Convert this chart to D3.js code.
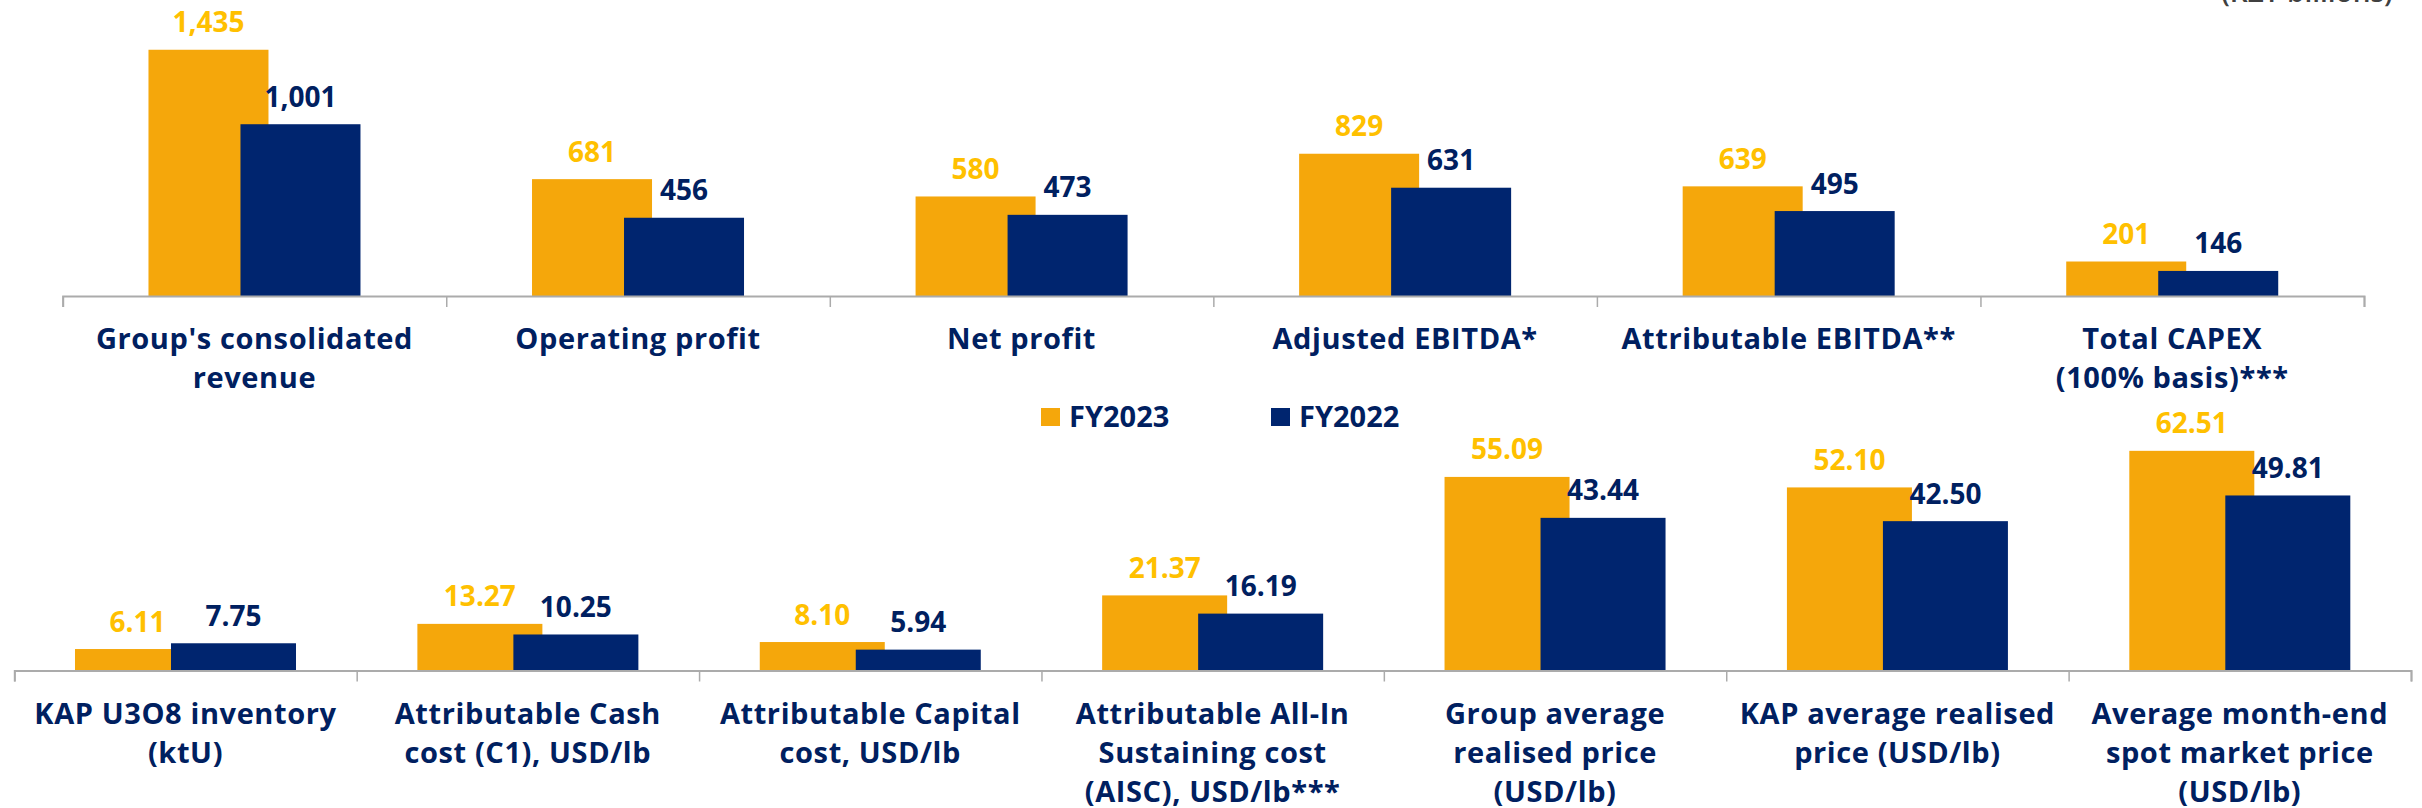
<!DOCTYPE html>
<html>
<head>
<meta charset="utf-8">
<script src="https://cdn.jsdelivr.net/npm/d3@7"></script>
<style>
  html, body { margin: 0; padding: 0; background: #ffffff; }
  svg { display: block; }
  text { font-family: "Open Sans", "DejaVu Sans", sans-serif; font-weight: 700; }
</style>
</head>
<body>
<div id="chart"></div>
<script>
// Financial results, KZT billions
const finCategories = [
    ["Group's consolidated", "revenue"],
    ["Operating profit"],
    ["Net profit"],
    ["Adjusted EBITDA*"],
    ["Attributable EBITDA**"],
    ["Total CAPEX", "(100% basis)***"]
];
const finFY2023 = [1435, 681, 580, 829, 639, 201];
const finFY2022 = [1001, 456, 473, 631, 495, 146];

// Operating / price indicators
const opsCategories = [
    ["KAP U3O8 inventory", "(ktU)"],
    ["Attributable Cash", "cost (C1), USD/lb"],
    ["Attributable Capital", "cost, USD/lb"],
    ["Attributable All-In", "Sustaining cost", "(AISC), USD/lb***"],
    ["Group average", "realised price", "(USD/lb)"],
    ["KAP average realised", "price (USD/lb)"],
    ["Average month-end", "spot market price", "(USD/lb)"]
];
const opsFY2023 = [6.11, 13.27, 8.10, 21.37, 55.09, 52.10, 62.51];
const opsFY2022 = [7.75, 10.25, 5.94, 16.19, 43.44, 42.50, 49.81];

const seriesNames = ["FY2023", "FY2022"];

const W = 2422, H = 808;
const ORANGE = "#f5a70b", ORANGE_TXT = "#ffc000";
const NAVY = "#00256f", NAVY_TXT = "#002060";

const svg = d3.select("#chart").append("svg")
    .attr("width", W)
    .attr("height", H);

// draws one panel of paired bars
function drawPanel(cfg) {
    const n = cfg.categories.length;
    const g = svg.append("g");

    const x = d3.scaleBand()
        .domain(d3.range(n))
        .range([cfg.x0, cfg.x1])
        .paddingInner(0).paddingOuter(0);

    const y = d3.scaleLinear()
        .domain([0, cfg.yMax])
        .range([cfg.base, cfg.base - cfg.yMax * cfg.pxPerUnit]);

    const bw = cfg.barWidth, ov = cfg.overlap;
    const groupW = 2 * bw - ov;
    const xOrange = i => x(i) + (x.bandwidth() - groupW) / 2;
    const xNavy = i => xOrange(i) + bw - ov;

    // bars: orange first, navy on top
    const series = [
        { vals: cfg.a, color: ORANGE, txt: ORANGE_TXT, xf: xOrange },
        { vals: cfg.b, color: NAVY, txt: NAVY_TXT, xf: xNavy }
    ];

    series.forEach(s => {
        g.selectAll(null)
            .data(s.vals)
            .enter()
            .append("rect")
            .attr("x", (d, i) => s.xf(i))
            .attr("y", d => y(d))
            .attr("width", bw)
            .attr("height", d => y(0) - y(d))
            .attr("fill", s.color);
    });

    // value labels
    series.forEach(s => {
        g.selectAll(null)
            .data(s.vals)
            .enter()
            .append("text")
            .attr("x", (d, i) => s.xf(i) + bw / 2)
            .attr("y", d => y(d) - 17.5)
            .attr("text-anchor", "middle")
            .attr("fill", s.txt)
            .style("font-size", "28px")
            .text(d => cfg.fmt(d));
    });

    // category axis with ticks at the boundaries
    const xb = d3.scaleLinear().domain([0, n]).range([cfg.x0, cfg.x1]);
    const axis = g.append("g")
        .attr("transform", "translate(0," + cfg.base + ")")
        .call(d3.axisBottom(xb).ticks(n).tickValues(d3.range(n + 1)).tickSize(11).tickFormat(""));
    axis.select(".domain").attr("stroke", "#ababab").attr("stroke-width", 2);
    axis.selectAll(".tick line").attr("stroke", "#ababab").attr("stroke-width", 1.5);

    // category labels
    const lab = g.selectAll(".cat-label")
        .data(cfg.categories)
        .enter()
        .append("text")
        .attr("class", "cat-label")
        .attr("text-anchor", "middle")
        .attr("fill", NAVY_TXT)
        .style("font-size", "29px")
        .style("letter-spacing", "0.6px");
    lab.each(function(lines, i) {
        d3.select(this).selectAll("tspan")
            .data(lines)
            .enter()
            .append("tspan")
            .attr("x", x(i) + x.bandwidth() / 2)
            .attr("y", (d, k) => cfg.base + 53 + k * 39)
            .text(d => d);
    });
}

drawPanel({
    categories: finCategories, a: finFY2023, b: finFY2022,
    x0: 62.7, x1: 2364, base: 296, yMax: 1600, pxPerUnit: 0.1716,
    barWidth: 120, overlap: 28, fmt: d3.format(",")
});

drawPanel({
    categories: opsCategories, a: opsFY2023, b: opsFY2022,
    x0: 14.3, x1: 2411, base: 670.5, yMax: 70, pxPerUnit: 3.514,
    barWidth: 125, overlap: 29, fmt: d3.format(".2f")
});

// legend
const legend = svg.append("g").attr("transform", "translate(1041,0)");
const legColors = [ORANGE, NAVY];
const leg = legend.selectAll("g")
    .data(seriesNames)
    .enter()
    .append("g")
    .attr("transform", (d, i) => "translate(" + (i * 230) + ",0)");
leg.append("rect")
    .attr("x", 0).attr("y", 408)
    .attr("width", 19).attr("height", 18)
    .attr("fill", (d, i) => legColors[i]);
leg.append("text")
    .attr("x", 28).attr("y", 426.5)
    .attr("fill", NAVY_TXT)
    .style("font-size", "29px")
    .text(d => d);

// unit note, cut off at the top edge
svg.append("text")
    .attr("x", 2393).attr("y", 2)
    .attr("text-anchor", "end")
    .attr("fill", "#404040")
    .style("font-size", "28px")
    .style("font-weight", 600)
    .text("(KZT billions)");
</script>
</body>
</html>
